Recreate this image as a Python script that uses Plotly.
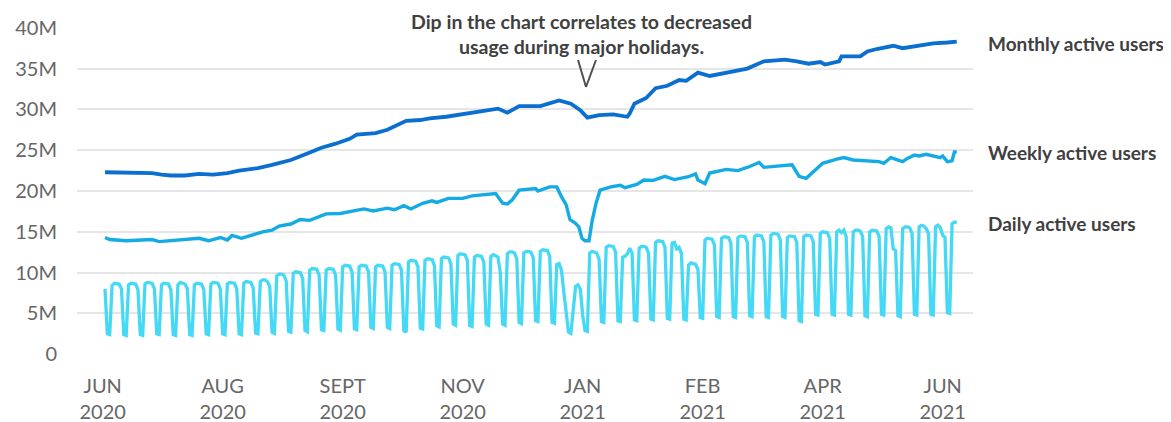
import numpy as np
import pandas as pd
import plotly.graph_objects as go

# ---------------- data ----------------
start_date = "2020-06-05"

# Daily active users (millions), one value per day, starting on a Friday.
# rows: Sat, Sun, Mon, Tue, Wed, Thu, Fri
dau_first = [8.0]
dau_weeks = [
    [2.5, 2.4, 8.4, 8.7, 8.7, 8.6, 8.0],
    [2.4, 2.3, 8.5, 8.7, 8.7, 8.6, 7.9],
    [2.4, 2.3, 8.6, 8.8, 8.8, 8.7, 8.0],
    [2.5, 2.4, 8.5, 8.7, 8.7, 8.6, 7.9],
    [2.4, 2.3, 8.5, 8.8, 8.7, 8.6, 8.0],
    [2.4, 2.3, 8.5, 8.7, 8.7, 8.6, 7.9],
    [2.5, 2.4, 8.6, 8.8, 8.8, 8.7, 8.0],
    [2.5, 2.4, 8.6, 8.8, 8.8, 8.7, 8.0],
    [2.5, 2.4, 8.7, 8.9, 8.9, 8.8, 8.1],
    [2.6, 2.5, 8.9, 9.1, 9.1, 8.9, 8.3],
    [2.7, 2.55, 9.6, 9.8, 9.8, 9.7, 9.0],
    [2.8, 2.7, 9.9, 10.1, 10.1, 10.0, 9.3],
    [2.9, 2.75, 10.3, 10.5, 10.5, 10.4, 9.7],
    [3.0, 2.9, 10.3, 10.5, 10.5, 10.4, 9.7],
    [3.1, 2.95, 10.7, 10.9, 10.9, 10.8, 10.1],
    [3.1, 3.0, 10.7, 10.9, 10.9, 10.8, 10.1],
    [3.3, 3.15, 10.7, 10.9, 10.9, 10.8, 10.1],
    [3.3, 3.15, 10.9, 11.1, 11.1, 11.0, 10.3],
    [2.9, 2.7, 11.3, 11.5, 11.5, 11.4, 10.7],
    [3.2, 3.1, 11.5, 11.7, 11.7, 11.6, 10.9],
    [3.5, 3.35, 11.7, 11.9, 11.9, 11.8, 11.1],
    [3.7, 3.55, 12.1, 12.3, 12.3, 12.2, 11.5],
    [3.5, 3.4, 11.9, 12.1, 12.1, 12.0, 11.3],
    [3.7, 3.55, 12.0, 12.2, 12.1, 11.9, 10.0],
    [3.7, 3.55, 12.3, 12.55, 12.55, 12.4, 11.7],
    [3.9, 3.75, 12.4, 12.6, 12.6, 12.5, 11.8],
    [4.1, 4.0, 12.6, 12.8, 12.8, 12.7, 12.0],
    [3.9, 3.8, 11.0, 11.1, 10.3, 7.6, 5.0],
    [2.7, 2.55, 5.5, 8.3, 8.5, 8.0, 4.8],
    [2.9, 2.8, 12.4, 12.6, 12.5, 12.4, 11.6],
    [4.0, 3.9, 13.1, 13.3, 13.3, 13.2, 12.5],
    [4.1, 4.0, 11.9, 12.0, 12.3, 13.0, 12.4],
    [4.2, 4.1, 13.0, 13.2, 13.2, 13.1, 12.4],
    [4.3, 4.2, 13.7, 13.9, 13.9, 13.8, 13.1],
    [4.4, 4.3, 13.6, 13.7, 12.9, 13.1, 12.3],
    [4.3, 4.2, 10.9, 11.2, 11.1, 11.0, 10.4],
    [4.5, 4.4, 14.0, 14.2, 14.2, 14.1, 13.4],
    [4.6, 4.5, 14.2, 14.4, 14.4, 14.3, 13.6],
    [4.6, 4.5, 14.3, 14.5, 14.5, 14.4, 13.7],
    [4.7, 4.6, 14.4, 14.6, 14.6, 14.5, 13.8],
    [4.6, 4.5, 14.6, 14.8, 14.8, 14.7, 14.0],
    [4.6, 4.5, 14.3, 14.5, 14.5, 14.4, 13.7],
    [4.1, 4.0, 14.4, 14.6, 14.6, 14.5, 13.8],
    [4.9, 4.8, 14.8, 15.0, 15.0, 14.9, 14.2],
    [4.9, 4.8, 15.0, 15.2, 14.9, 15.2, 14.4],
    [4.9, 4.8, 15.0, 15.2, 15.2, 15.1, 14.4],
    [4.7, 4.6, 15.0, 15.2, 15.2, 15.1, 14.4],
    [4.9, 4.8, 15.4, 15.6, 15.5, 12.9, 12.7],
    [4.7, 4.6, 15.4, 15.6, 15.6, 15.5, 14.8],
    [4.9, 4.8, 15.6, 15.8, 15.7, 15.4, 14.8],
    [4.9, 4.8, 15.6, 15.8, 15.5, 14.6, 14.3],
    [5.1, 5.0, 16.0, 16.2, 16.1],
]

# Monthly active users (millions): day offset from start, value
mau_day = [0, 10, 20, 24, 28, 34, 40, 46, 52, 57, 65, 71, 79, 86, 92, 98, 104, 107,
           115, 120, 124, 128, 134, 138, 145, 154, 162, 167, 171, 176, 185, 193, 198,
           202, 205, 210, 216, 222, 223, 225, 230, 234, 239, 244, 247, 252, 257, 266,
           273, 280, 289, 294, 299, 304, 306, 312, 313, 321, 324, 328, 335, 339, 345,
           352, 358, 362]
mau_val = [22.3, 22.2, 22.2, 22.0, 21.9, 21.9, 22.1, 22.0, 22.2, 22.5, 22.8, 23.2, 23.8,
           24.6, 25.3, 25.8, 26.4, 26.9, 27.1, 27.5, 28.1, 28.6, 28.7, 28.9, 29.1, 29.5,
           29.8, 30.1, 29.6, 30.4, 30.4, 31.1, 30.7, 29.9, 29.0, 29.3, 29.4, 29.1, 29.5,
           30.7, 31.4, 32.6, 32.9, 33.6, 33.5, 34.5, 34.1, 34.6, 35.0, 35.9, 36.1, 35.9,
           35.6, 35.8, 35.5, 35.9, 36.5, 36.5, 37.1, 37.4, 37.8, 37.5, 37.8, 38.1, 38.2,
           38.3]

# Weekly active users (millions): day offset from start, value
wau_day = [0, 2, 9, 20, 23, 32, 40, 44, 49, 52, 54, 58, 63, 67, 71, 74, 79, 83, 87, 94,
           100, 104, 110, 114, 120, 123, 127, 130, 135, 139, 141, 146, 152, 156, 161, 166,
           169, 171, 173, 176, 183, 184, 189, 192, 194, 196, 197.6, 199.7, 201.4, 202.7,
           204, 205.7, 207, 208.7, 210.4, 215, 219, 221, 226, 229, 233, 238, 242, 248,
           251, 252, 255, 257, 264, 269, 274, 278, 280, 288, 292, 295, 298, 302, 305, 311,
           314, 318, 329, 331, 334, 339, 341, 344, 346, 349, 353, 355, 356, 358, 360, 361,
           362]
wau_val = [14.3, 14.05, 13.9, 14.05, 13.8, 14.05, 14.2, 13.9, 14.3, 14.0, 14.55, 14.2,
           14.7, 15.0, 15.2, 15.7, 15.95, 16.5, 16.4, 17.2, 17.25, 17.5, 17.8, 17.55, 17.9,
           17.7, 18.2, 17.8, 18.5, 18.8, 18.6, 19.1, 19.1, 19.4, 19.6, 19.7, 18.5, 18.4,
           18.9, 20.1, 20.3, 20.0, 20.5, 20.5, 19.3, 18.3, 16.5, 16.1, 15.6, 14.2, 13.9,
           13.9, 16.3, 18.5, 20.1, 20.5, 20.7, 20.4, 20.8, 21.35, 21.3, 21.8, 21.4, 21.75,
           22.1, 21.35, 20.9, 22.2, 22.65, 22.5, 23.0, 23.5, 22.9, 23.1, 23.2, 21.8, 21.55,
           22.6, 23.4, 23.9, 24.1, 23.8, 23.6, 23.4, 24.1, 23.6, 24.0, 24.4, 24.3, 24.5,
           24.3, 24.1, 24.3, 23.6, 23.7, 24.8, 24.8]

series_names = ["Monthly active users", "Weekly active users", "Daily active users"]
series_colors = ["#0B6FCF", "#14ABE4", "#45D9F5"]

y_ticks = [0, 5, 10, 15, 20, 25, 30, 35, 40]
y_ticktext = ["0", "5M", "10M", "15M", "20M", "25M", "30M", "35M", "40M"]
x_tick_dates = ["2020-06-04", "2020-07-25", "2020-09-14", "2020-11-04",
                "2020-12-25", "2021-02-14", "2021-04-06", "2021-05-27"]
x_ticktext = ["JUN<br>2020", "AUG<br>2020", "SEPT<br>2020", "NOV<br>2020",
              "JAN<br>2021", "FEB<br>2021", "APR<br>2021", "JUN<br>2021"]

note_text = "Dip in the chart correlates to decreased<br>usage during major holidays."

# ---------------- build ----------------
start = pd.Timestamp(start_date)
dau = dau_first + [v for row in dau_weeks for v in row]
dau_x = start + pd.to_timedelta(np.arange(len(dau)), unit="D")
mau_x = start + pd.to_timedelta(mau_day, unit="D")
wau_x = start + pd.to_timedelta(wau_day, unit="D")

M = 1e6
fig = go.Figure()
fig.add_trace(go.Scatter(x=dau_x, y=np.array(dau) * M, mode="lines",
                         line=dict(color=series_colors[2], width=3.3), name=series_names[2]))
fig.add_trace(go.Scatter(x=wau_x, y=np.array(wau_val) * M, mode="lines",
                         line=dict(color=series_colors[1], width=3.4), name=series_names[1]))
fig.add_trace(go.Scatter(x=mau_x, y=np.array(mau_val) * M, mode="lines",
                         line=dict(color=series_colors[0], width=3.8), name=series_names[0]))

font_main = "Lato, 'Open Sans', sans-serif"
# the page body has an 8px margin, so the figure is 8px smaller than the window
fig.update_layout(
    width=1163, height=414,
    margin=dict(l=69, r=198, t=19, b=67, autoexpand=False),
    plot_bgcolor="white", paper_bgcolor="white",
    showlegend=False,
    font=dict(family=font_main, color="#666666"),
    xaxis=dict(
        type="date", automargin=False,
        range=[start - pd.Timedelta(days=11.9), start + pd.Timedelta(days=368.9)],
        tickvals=x_tick_dates, ticktext=x_ticktext,
        showgrid=False, zeroline=False, showline=False, ticks="",
        tickfont=dict(size=20, color="#666666", family=font_main),
        ticklabelstandoff=17,
    ),
    yaxis=dict(
        automargin=False,
        range=[-0.1 * M, 40.1 * M],
        tickvals=[v * M for v in y_ticks], ticktext=y_ticktext,
        showgrid=True, gridcolor="#E6E6E6", gridwidth=1.5,
        zeroline=False, showline=False, ticks="",
        tickfont=dict(size=20, color="#666666", family=font_main),
        ticklabelstandoff=19,
    ),
)

label_y = [0.951, 0.616, 0.402]
for name, yy in zip(series_names, label_y):
    fig.add_annotation(text="<b>%s</b>" % name, xref="paper", yref="paper",
                       x=1.0145, y=yy, xanchor="left", yanchor="middle", showarrow=False,
                       font=dict(size=19, color="#404040", family=font_main))

fig.add_annotation(text="<b>%s</b>" % note_text, xref="paper", yref="paper",
                   x=0.5625, y=0.979, xanchor="center", yanchor="middle", showarrow=False,
                   align="center", borderpad=0,
                   font=dict(size=19.5, color="#404040", family=font_main))

# "V" pointer
fig.add_shape(type="line", xref="paper", yref="paper", x0=0.5592, y0=0.8994, x1=0.5681, y1=0.8171,
              line=dict(color="#505050", width=2))
fig.add_shape(type="line", xref="paper", yref="paper", x0=0.5681, y0=0.8171, x1=0.5792, y1=0.8994,
              line=dict(color="#505050", width=2))

fig.write_html("out.html")
